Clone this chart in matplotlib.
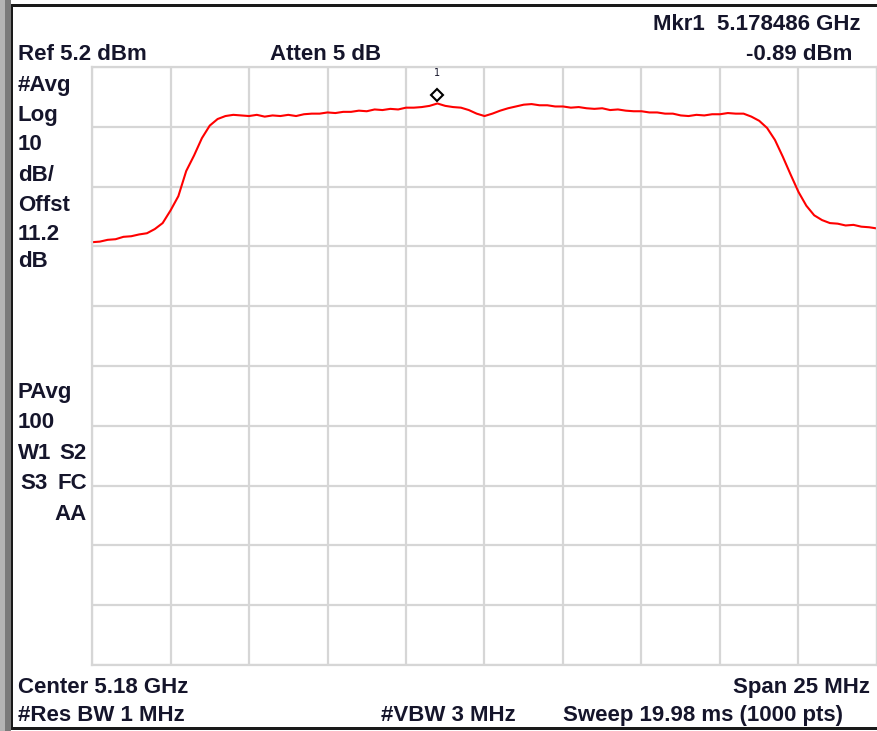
import numpy as np
import matplotlib
matplotlib.use("Agg")
import matplotlib.pyplot as plt
from matplotlib.patches import Rectangle
from matplotlib.transforms import offset_copy

# analyzer settings
center_ghz = 5.18
span_mhz = 25.0
ref_dbm = 5.2
db_per_div = 10.0
n_div = 10

# trace (offset from centre in MHz, level in dBm)
freq_mhz = np.linspace(-12.5, 12.5, 101)
level_dbm = np.array([
    -24.1, -24.0, -23.7, -23.6, -23.2, -23.1, -22.8, -22.6, -21.9, -20.9,
    -18.8, -16.4, -12.2, -9.6, -6.7, -4.6, -3.5, -3.0, -2.8, -2.9,
    -3.0, -2.8, -3.1, -2.9, -3.0, -2.8, -3.0, -2.7, -2.6, -2.6,
    -2.4, -2.5, -2.3, -2.3, -2.1, -2.2, -1.9, -2.0, -1.8, -1.9,
    -1.6, -1.6, -1.5, -1.3, -0.9, -1.3, -1.5, -1.6, -2.0, -2.6,
    -3.0, -2.6, -2.1, -1.7, -1.4, -1.1, -1.0, -1.2, -1.2, -1.4,
    -1.4, -1.6, -1.5, -1.7, -1.8, -1.7, -2.0, -1.9, -2.1, -2.2,
    -2.2, -2.4, -2.4, -2.6, -2.6, -2.9, -3.0, -2.8, -2.9, -2.7,
    -2.7, -2.5, -2.6, -2.6, -3.1, -3.8, -5.0, -7.0, -9.8, -12.8,
    -15.7, -18.0, -19.6, -20.4, -20.9, -21.0, -21.3, -21.2, -21.5, -21.6,
    -21.8,
])

mkr_freq_mhz = -1.514
mkr_level_dbm = -0.89

top_left = ["#Avg", "Log", "10", "dB/", "Offst", "11.2", "dB"]
top_left_y = [91, 121, 150, 181, 211, 240, 267]

txt_color = "#15152b"
grid_color = "#d6d6d6"
fs = 16
fam = ["Liberation Sans", "DejaVu Sans"]

W, H = 878, 731
fig = plt.figure(figsize=(W / 100, H / 100), dpi=100)

# background in pixel coordinates for the frame and the annotation texts
bg = fig.add_axes([0, 0, 1, 1])
bg.set_xlim(0, W)
bg.set_ylim(H, 0)
bg.axis("off")
bg.add_patch(Rectangle((0, 0), 5, H, color="#b4b4b4", lw=0))
bg.add_patch(Rectangle((5, 0), 6, H, color="#7a7a7a", lw=0))
bg.add_patch(Rectangle((11, 4), 2.5, H - 6, color="#1a1a1a", lw=0))
bg.add_patch(Rectangle((11, 4), W, 2.5, color="#1a1a1a", lw=0))
bg.add_patch(Rectangle((11, 727), W, 2.5, color="#1a1a1a", lw=0))


def put(x, y, s, ha="left"):
    bg.text(x, y, s, ha=ha, va="baseline", fontsize=fs, fontweight="bold",
            color=txt_color, family=fam)


put(653, 30, "Mkr1  5.178486 GHz")
put(18, 60, "Ref 5.2 dBm")
put(270, 60, "Atten 5 dB")
put(852, 60, "-0.89 dBm", ha="right")
for s, y in zip(top_left, top_left_y):
    put(18, y, s)
put(18, 398, "PAvg")
put(18, 428, "100")
put(18, 459, "W1")
put(87, 459, "S2", ha="right")
put(20, 489, "S3")
put(87, 489, "FC", ha="right")
put(87, 520, "AA", ha="right")
put(18, 693, "Center 5.18 GHz")
put(870, 693, "Span 25 MHz", ha="right")
put(18, 721, "#Res BW 1 MHz")
put(381, 721, "#VBW 3 MHz")
put(563, 721, "Sweep 19.98 ms (1000 pts)")

# the graticule
ax = fig.add_axes([92 / W, 1 - 665 / H, 785 / W, (665 - 67) / H])
ax.set_xlim(-span_mhz / 2, span_mhz / 2)
ax.set_ylim(ref_dbm - n_div * db_per_div, ref_dbm)
ax.set_xticks(np.linspace(-span_mhz / 2, span_mhz / 2, n_div + 1))
ax.set_yticks(np.linspace(ref_dbm - n_div * db_per_div, ref_dbm, n_div + 1))
ax.tick_params(length=0, labelbottom=False, labelleft=False)
ax.grid(True, color=grid_color, lw=1.6)
for sp in ax.spines.values():
    sp.set_color(grid_color)
    sp.set_linewidth(1.6)

ax.plot(freq_mhz, level_dbm, color="#ff0000", lw=1.5, clip_on=False)

# marker 1 drawn just above the trace point
up = offset_copy(ax.transData, fig=fig, x=0, y=8, units="dots")
ax.plot([mkr_freq_mhz], [mkr_level_dbm], marker="D", ms=6.5, mfc="white",
        mec="black", mew=1.5, transform=up, clip_on=False)
lab = offset_copy(ax.transData, fig=fig, x=0, y=30, units="dots")
ax.text(mkr_freq_mhz, mkr_level_dbm, "1", ha="center", va="center",
        fontsize=7, color=txt_color, transform=lab)

fig.savefig("out.png", dpi=100)
